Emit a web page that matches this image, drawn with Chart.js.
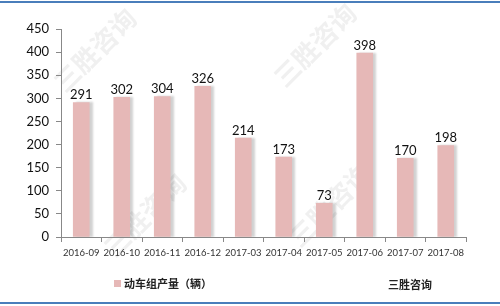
<!DOCTYPE html>
<html>
<head>
<meta charset="utf-8">
<script src="https://cdn.jsdelivr.net/npm/chart.js@4.4.0/dist/chart.umd.min.js"></script>
<style>
  html, body { margin: 0; padding: 0; background: #fff; }
  #wrap { width: 500px; height: 306px; position: relative; }
</style>
</head>
<body>
<div id="wrap"><canvas id="chart" width="500" height="306"></canvas></div>
<script>
// data
const months = ['2016-09', '2016-10', '2016-11', '2016-12', '2017-03', '2017-04', '2017-05', '2017-06', '2017-07', '2017-08'];
const output = [291, 302, 304, 326, 214, 173, 73, 398, 170, 198];
const seriesName = '动车组产量（辆）';
const brand = '三胜咨询';

const CN = '"Noto Sans CJK SC", sans-serif';
const NUM = 'Lato, "Liberation Sans", sans-serif';

// blue frame lines, watermark, legend and brand text
const decorPlugin = {
    id: 'decor',
    beforeDraw(chart) {
        const ctx = chart.ctx;
        ctx.save();
        ctx.fillStyle = '#fff';
        ctx.fillRect(0, 0, chart.width, chart.height);
        // faint watermark
        ctx.fillStyle = 'rgba(150,150,150,0.14)';
        ctx.font = 'bold 26px ' + CN;
        ctx.textAlign = 'center';
        ctx.textBaseline = 'middle';
        [[95, 50], [315, 45], [145, 215], [330, 205]].forEach(p => {
            ctx.save();
            ctx.translate(p[0], p[1]);
            ctx.rotate(-Math.PI / 4);
            ctx.fillText(brand, 0, 0);
            ctx.restore();
        });
        ctx.restore();
    },
    afterDraw(chart) {
        const ctx = chart.ctx;
        ctx.save();
        ctx.fillStyle = '#4A7EBB';
        ctx.fillRect(0, 1, chart.width, 2);
        ctx.fillRect(0, 302, chart.width, 2);
        // legend
        ctx.fillStyle = '#E6B8B7';
        ctx.fillRect(114, 280, 7, 7);
        ctx.fillStyle = '#222';
        ctx.font = 'bold 11px ' + CN;
        ctx.textBaseline = 'middle';
        ctx.textAlign = 'left';
        ctx.fillText(seriesName, 124, 284);
        ctx.fillText(brand, 388, 285);
        ctx.restore();
    }
};

// soft shadow on bars
const shadowPlugin = {
    id: 'barShadow',
    beforeDatasetDraw(chart) {
        const ctx = chart.ctx;
        ctx.save();
        ctx.shadowColor = 'rgba(0,0,0,0.18)';
        ctx.shadowOffsetX = 3;
        ctx.shadowOffsetY = 0;
        ctx.shadowBlur = 2;
    },
    afterDatasetDraw(chart) {
        chart.ctx.restore();
    }
};

// value labels above bars
const valuePlugin = {
    id: 'values',
    afterDatasetsDraw(chart) {
        const ctx = chart.ctx;
        const meta = chart.getDatasetMeta(0);
        ctx.save();
        ctx.fillStyle = '#111';
        ctx.font = '13px ' + NUM;
        ctx.textAlign = 'center';
        ctx.textBaseline = 'bottom';
        meta.data.forEach((bar, i) => {
            ctx.fillText(String(output[i]), bar.x, bar.y - 1);
        });
        ctx.restore();
    }
};

new Chart(document.getElementById('chart'), {
    type: 'bar',
    data: {
        labels: months,
        datasets: [{
            label: seriesName,
            data: output,
            backgroundColor: '#E6B8B7',
            barThickness: 16
        }]
    },
    options: {
        responsive: false,
        animation: false,
        layout: { padding: { left: 0, right: 34, top: 29, bottom: 39 } },
        plugins: {
            legend: { display: false },
            tooltip: { enabled: false }
        },
        scales: {
            x: {
                offset: true,
                grid: {
                    offset: true,
                    drawOnChartArea: false,
                    drawTicks: true,
                    tickLength: 5,
                    color: '#888'
                },
                border: { color: '#888', width: 1 },
                ticks: {
                    color: '#333',
                    font: { family: NUM, size: 9.5 },
                    maxRotation: 0,
                    autoSkip: false,
                    padding: 5
                },
                afterFit(scale) { scale.height = 30; }
            },
            y: {
                min: 0,
                max: 450,
                grid: {
                    drawOnChartArea: false,
                    drawTicks: true,
                    tickLength: 5,
                    color: '#888'
                },
                border: { color: '#888', width: 1 },
                ticks: {
                    stepSize: 50,
                    color: '#111',
                    font: { family: NUM, size: 13 },
                    padding: 7
                },
                afterFit(scale) { scale.width = 61; }
            }
        }
    },
    plugins: [decorPlugin, shadowPlugin, valuePlugin]
});
</script>
</body>
</html>
